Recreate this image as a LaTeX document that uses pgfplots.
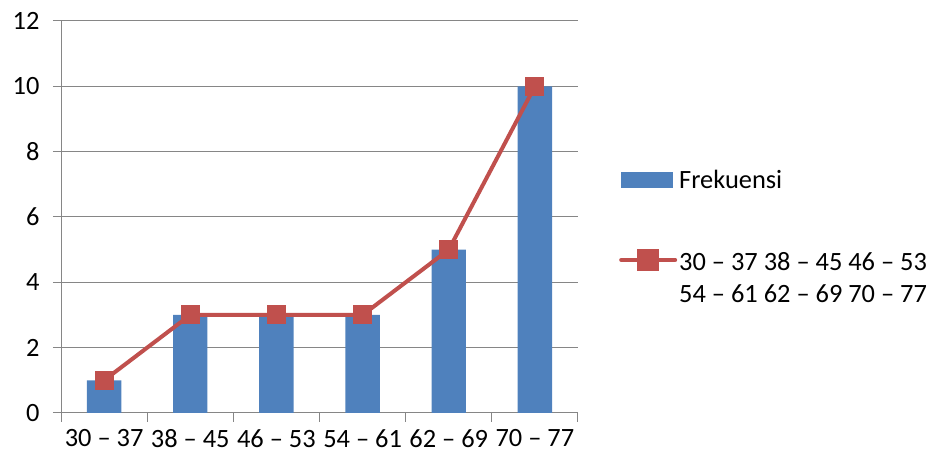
\documentclass[border=0pt]{standalone}
\usepackage{pgfplots}
\pgfplotsset{compat=1.18}
\usepackage{fontspec}
\setmainfont{Carlito}
\definecolor{barblue}{HTML}{4F81BD}
\definecolor{linered}{HTML}{C0504D}
\definecolor{gridgray}{HTML}{868686}
\begin{document}
\begin{tikzpicture}
\useasboundingbox (0,0) rectangle (931bp,461bp);
\begin{axis}[
  at={(61bp,48bp)}, anchor=south west,
  scale only axis, width=517bp, height=392bp,
  xmin=-0.5, xmax=5.5, ymin=0, ymax=12,
  ytick={0,2,...,12},
  xtick={0,...,5},
  xticklabels={30 – 37,38 – 45,46 – 53,54 – 61,62 – 69,70 – 77},
  minor xtick={-0.5,0.5,...,5.5},
  major x tick style={draw=none},
  minor x tick style={draw=gridgray, line width=1bp},
  minor tick length=9bp,
  major tick length=8bp,
  y tick style={draw=gridgray, line width=1bp},
  tick align=outside,
  ymajorgrids, grid style={draw=gridgray, line width=1bp},
  axis x line*=bottom, axis y line*=left,
  axis line style={draw=gridgray, line width=1bp, -},
  /pgf/number format/assume math mode=true,
  tick label style={font=\fontsize{26.5}{32}\selectfont},
  yticklabel style={xshift=-10bp},
  xticklabel style={yshift=-5bp},
  legend style={at={(1,0.5)}, anchor=west, xshift=38bp, yshift=-4bp, draw=none, fill=none,
    font=\fontsize{26.5}{32}\selectfont, row sep=54bp,
    legend cell align=left},
  clip=false,
]
\addplot[ybar, bar width=0.4, fill=barblue, draw=none,
  legend image code/.code={\fill[barblue] (0bp,-8bp) rectangle (52bp,8bp);}]
  coordinates {(0,1) (1,3) (2,3) (3,3) (4,5) (5,10)};
\addlegendentry{Frekuensi}
\addplot[linered, line width=4bp, mark=square*, mark size=9bp,
  mark options={fill=linered, draw=linered, line width=0pt},
  legend image code/.code={\draw[linered, line width=4bp, line cap=round] (0bp,0bp) -- (54bp,0bp); \fill[linered] (18bp,-9bp) rectangle (36bp,9bp);}]
  coordinates {(0,1) (1,3) (2,3) (3,3) (4,5) (5,10)};
\addlegendentry{\begin{tabular}[t]{@{}l@{}}30 – 37 38 – 45 46 – 53\\ 54 – 61 62 – 69 70 – 77\end{tabular}}
\end{axis}
\end{tikzpicture}
\end{document}
